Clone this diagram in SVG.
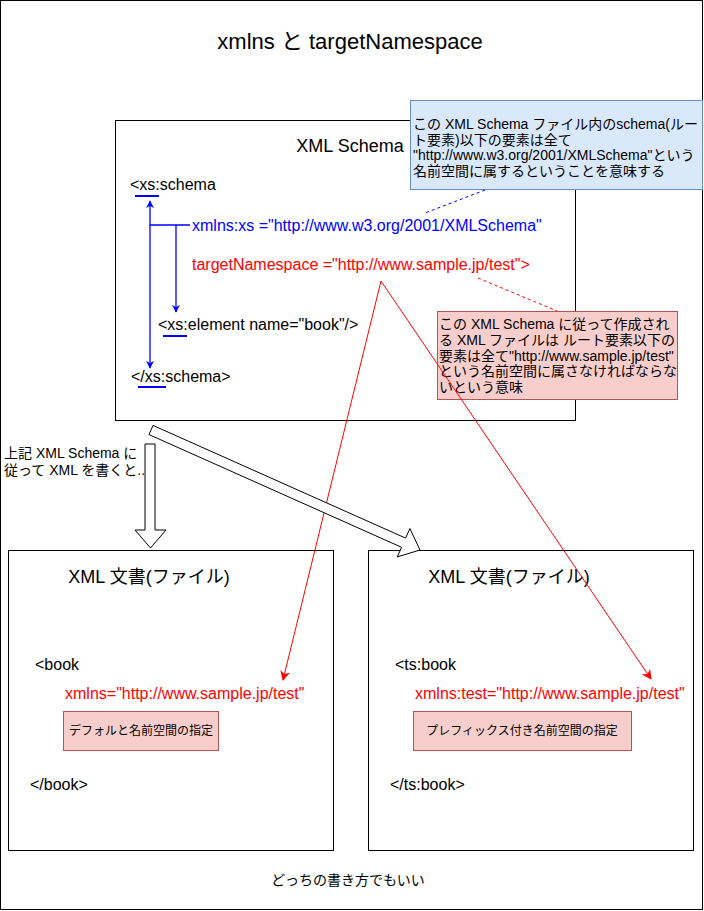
<svg xmlns="http://www.w3.org/2000/svg" width="704" height="911" viewBox="0 0 704 911">
<style>
text{font-family:"Liberation Sans","Noto Sans CJK JP",sans-serif;fill:#000}
.code{font-size:16px}
.blue{fill:#0000ff}
.red{fill:#ff0000}
.c14{font-size:14px}
.c12{font-size:12px}
.box{fill:#fff;stroke:#000;stroke-width:1}
.bluebox{fill:#dae8fc;stroke:#6c8ebf;stroke-width:1}
.redbox{fill:#f8cecc;stroke:#b85450;stroke-width:1}
.bl{stroke:#0000ff;stroke-width:1.3;fill:none}
.rl{stroke:#ff0000;stroke-width:1;fill:none}
.ul{stroke:#0000ff;stroke-width:2}
.fat{fill:#fff;stroke:#000;stroke-width:1}
</style>
<defs>
<marker id="ab" viewBox="0 0 10 10" refX="9" refY="5" markerWidth="8" markerHeight="8" markerUnits="userSpaceOnUse" orient="auto">
<path d="M0,0 L10,5 L0,10 L3,5 z" fill="#0000ff"/>
</marker>
<marker id="ar" viewBox="0 0 10 10" refX="9" refY="5" markerWidth="10" markerHeight="10" markerUnits="userSpaceOnUse" orient="auto">
<path d="M0,0 L10,5 L0,10 L3,5 z" fill="#ff0000"/>
</marker>
</defs>
<rect x="0.5" y="0.5" width="702" height="909" fill="#fff" stroke="#000"/>
<text x="350" y="49" text-anchor="middle" style="font-size:22px">xmlns と targetNamespace</text>

<g id="schema">
<rect class="box" x="115.5" y="120.5" width="460" height="300"/>
<text x="350" y="152" text-anchor="middle" style="font-size:18px">XML Schema</text>
<text class="code" x="130" y="190">&lt;xs:schema</text>
<line class="ul" x1="135" y1="196" x2="159" y2="196"/>
<text class="code blue" x="192" y="231">xmlns:xs ="http://www.w3.org/2001/XMLSchema"</text>
<text class="code red" x="192" y="270">targetNamespace ="http://www.sample.jp/test"&gt;</text>
<text class="code" x="158" y="330">&lt;xs:element name="book"/&gt;</text>
<line class="ul" x1="163" y1="336" x2="187" y2="336"/>
<text class="code" x="131" y="382">&lt;/xs:schema&gt;</text>
<line class="ul" x1="138" y1="387" x2="166" y2="387"/>
</g>

<g id="note-blue">
<rect class="bluebox" x="410.5" y="100.5" width="292" height="89"/>
<text class="c14" x="413" y="129">この XML Schema ファイル内のschema(ルー</text>
<text class="c14" x="413" y="145">ト要素)以下の要素は全て</text>
<text class="c14" x="413" y="160">"http://www.w3.org/2001/XMLSchema"という</text>
<text class="c14" x="413" y="176">名前空間に属するということを意味する</text>
</g>

<g id="note-red">
<rect class="redbox" x="437.5" y="311.5" width="240" height="88"/>
<text class="c14" x="439" y="329">この XML Schema に従って作成され</text>
<text class="c14" x="439" y="345">る XML ファイルは ルート要素以下の</text>
<text class="c14" x="439" y="361">要素は全て"http://www.sample.jp/test"</text>
<text class="c14" x="439" y="376">という名前空間に属さなければならな</text>
<text class="c14" x="439" y="392">いという意味</text>
</g>

<g id="label-write">
<text class="c14" x="4" y="458">上記 XML Schema に</text>
<text class="c14" x="4" y="475">従って XML を書くと...</text>
</g>

<g id="doc-left">
<rect class="box" x="8.5" y="550.5" width="325" height="300"/>
<text x="149" y="583" text-anchor="middle" style="font-size:18px">XML 文書(ファイル)</text>
<text class="code" x="35" y="670">&lt;book</text>
<text class="code red" x="65" y="699">xmlns="http://www.sample.jp/test"</text>
<rect class="redbox" x="63.5" y="711.5" width="155" height="39"/>
<text class="c12" x="141" y="735" text-anchor="middle">デフォルと名前空間の指定</text>
<text class="code" x="30" y="790">&lt;/book&gt;</text>
</g>

<g id="doc-right">
<rect class="box" x="368.5" y="550.5" width="325" height="300"/>
<text x="509" y="583" text-anchor="middle" style="font-size:18px">XML 文書(ファイル)</text>
<text class="code" x="395" y="670">&lt;ts:book</text>
<text class="code red" x="415" y="699">xmlns:test="http://www.sample.jp/test"</text>
<rect class="redbox" x="413.5" y="711.5" width="218" height="39"/>
<text class="c12" x="522" y="735" text-anchor="middle">プレフィックス付き名前空間の指定</text>
<text class="code" x="390" y="790">&lt;/ts:book&gt;</text>
</g>

<text x="348" y="885" text-anchor="middle" style="font-size:14px">どっちの書き方でもいい</text>

<g id="connectors">
<polyline class="bl" points="190,225 150,225 150,201" marker-end="url(#ab)"/>
<polyline class="bl" points="150,225 150,368" marker-end="url(#ab)"/>
<polyline class="bl" points="176,225 176,312" marker-end="url(#ab)"/>
<line x1="485" y1="190" x2="425" y2="213" stroke="#0000ff" stroke-width="1" stroke-dasharray="3 3"/>
<line x1="478" y1="278" x2="557" y2="311" stroke="#ff0000" stroke-width="1" stroke-dasharray="3 3"/>
<line class="rl" x1="381" y1="281" x2="283" y2="680" marker-end="url(#ar)"/>
<line class="rl" x1="381" y1="281" x2="651" y2="679" marker-end="url(#ar)"/>
<polygon class="fat" points="145,444 155,444 155,530 166,530 150.5,548 135,530 145,530"/>
<polygon class="fat" points="148.96,434.57 153.04,425.43 405.6,538.1 409.9,528.5 420,550 397.3,556.9 401.6,547.3"/>
</g>
</svg>
